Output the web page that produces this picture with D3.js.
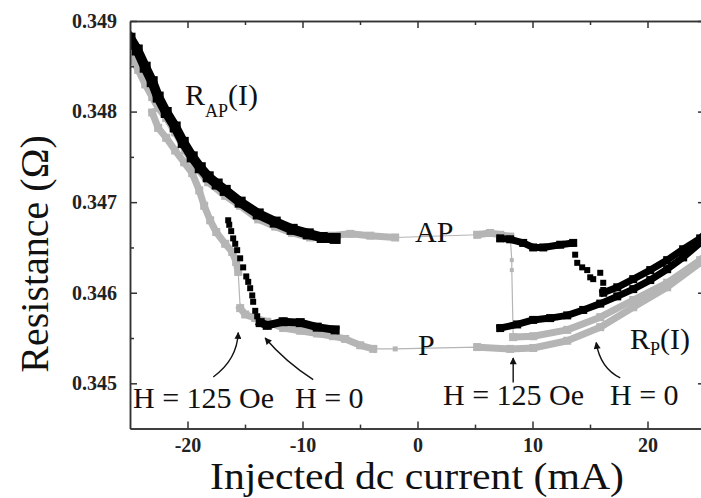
<!DOCTYPE html>
<html>
<head>
<meta charset="utf-8">
<script src="https://cdn.jsdelivr.net/npm/d3@7"></script>
<style>
    body { margin: 0; background: #fff; }
    svg { display: block; }
    .axis path, .axis line { stroke: #333; stroke-width: 1.5; }
    .label { font-family: "Liberation Serif", "Times New Roman", serif; fill: #111; }
</style>
</head>
<body>
<script>
(function(){

    //tick values and labels
    var xTicks = [-20, -10, 0, 10, 20];
    var xTickLabels = ["-20", "-10", "0", "10", "20"];
    var xMinor = [-15, -5, 5, 15];
    var yTicks = [0.345, 0.346, 0.347, 0.348, 0.349];
    var yTickLabels = ["0.345", "0.346", "0.347", "0.348", "0.349"];
    var yMinor = [0.3455, 0.3465, 0.3475, 0.3485];

    //H = 125 Oe sweeps (grey symbols), [current mA, resistance ohm]
    var grayUpper = [[-25.0,0.34862],[-24.29,0.34846],[-23.68,0.34830],[-23.07,0.34816],[-22.55,0.34804],
        [-21.85,0.34793],[-21.07,0.34777],[-20.2,0.34757],[-19.33,0.34740],[-18.2,0.34722],[-16.72,0.34707],
        [-15.42,0.34696],[-13.85,0.34681],[-12.37,0.34673],[-10.9,0.34666],[-9.33,0.34661],[-7.59,0.34663],
        [-5.85,0.34665],[-4.11,0.34663],[-1.94,0.34661]];
    var grayAP2 = [[5.19,0.34664],[6.31,0.34666],[7.19,0.34664],[8.06,0.34662]];
    var graySwitch = [[8.2,0.34636],[8.2,0.34625]];
    var grayRPup = [[8.32,0.34551],[10.06,0.34552],[13.02,0.34559],[15.89,0.34573],[18.76,0.34592],
        [21.71,0.34611],[24.58,0.34636],[25.0,0.34641]];
    var grayRPdown = [[25.0,0.34636],[24.58,0.34633],[21.71,0.34606],[18.76,0.34584],[15.89,0.34562],
        [13.02,0.34547],[10.06,0.34539],[8.06,0.34538],[5.19,0.34540]];
    var grayPoint = [[-1.94,0.34538]];
    var grayP = [[-3.85,0.34538],[-4.98,0.34542],[-6.29,0.34549],[-7.33,0.34552],[-8.72,0.34555],
        [-10.2,0.34558],[-11.68,0.34561],[-13.07,0.34568],[-14.11,0.34572],[-14.98,0.34576],[-15.42,0.34583]];
    var grayLowerBranch = [[-15.59,0.34623],[-15.77,0.34634],[-16.11,0.34645],[-16.72,0.34654],[-17.50,0.34667],
        [-18.03,0.34680],[-18.55,0.34696],[-18.98,0.34713],[-19.59,0.34732],[-20.29,0.34744],[-21.07,0.34757],
        [-21.85,0.34771],[-22.55,0.34782],[-23.07,0.34799]];

    //H = 0 sweeps (black symbols)
    var blackAP = [[-25.0,0.34881],[-24.37,0.34868],[-23.68,0.34849],[-23.07,0.34833],[-22.55,0.34816],
        [-21.85,0.34799],[-21.07,0.34783],[-20.37,0.34766],[-19.59,0.34750],[-18.89,0.34738],[-18.2,0.34728],
        [-17.42,0.34720],[-16.72,0.34713],[-15.42,0.34700],[-13.85,0.34687],[-12.37,0.34678],[-10.9,0.34670],
        [-9.5,0.34665],[-8.29,0.34661],[-7.16,0.34660]];
    var blackP = [[-7.16,0.34559],[-8.72,0.34562],[-10.2,0.34567],[-11.68,0.34568],[-13.07,0.34564],[-13.68,0.34567]];
    var blackSwitch = [[-16.46,0.34680],[-16.37,0.34675],[-16.2,0.34668],[-16.03,0.34660],[-15.85,0.34654],
        [-15.68,0.34647],[-15.42,0.34638],[-15.16,0.34628],[-14.89,0.34618],[-14.72,0.34612],[-14.55,0.34605],
        [-14.37,0.34597],[-14.29,0.34590],[-14.11,0.34580],[-13.94,0.34574]];
    var blackAPright = [[7.19,0.34660],[8.06,0.34659],[9.19,0.34655],[10.06,0.34650],[10.93,0.34650],
        [12.41,0.34653],[13.54,0.34655]];
    var blackSteps = [[13.71,0.34642],[13.89,0.34633],[14.32,0.34628],[14.76,0.34625],[15.02,0.34617],
        [15.28,0.34615],[15.89,0.34622],[16.15,0.34611],[16.15,0.34603]];
    var blackRPup = [[16.15,0.34600],[17.37,0.34606],[18.76,0.34615],[20.24,0.34625],[21.71,0.34636],
        [23.1,0.34648],[24.58,0.34660],[25.0,0.34665]];
    var blackRPdown = [[25.0,0.34660],[24.58,0.34655],[23.1,0.34639],[21.71,0.34626],[20.24,0.34614],
        [18.76,0.34604],[17.37,0.34596],[15.89,0.34588],[14.41,0.34581],[13.02,0.34575],[11.54,0.34572],
        [10.06,0.34570],[8.67,0.34565],[7.19,0.34561]];

    //annotation arrows: start, control, end
    var arrows = [
        [[-17.76,0.34507],[-15.68,0.34526],[-15.59,0.34556]],
        [[-9.07,0.34504],[-11.5,0.34524],[-13.25,0.34550]],
        [[8.32,0.34501],[8.32,0.34515],[8.32,0.34528]],
        [[17.63,0.34506],[15.89,0.34517],[15.54,0.34545]]
    ];

    var serif = "'Liberation Serif', 'Times New Roman', serif";
    var width = 701, height = 498;

    var svg = d3.select("body").append("svg")
        .attr("width", width)
        .attr("height", height);

    //scales
    var x = d3.scaleLinear().domain([-25, 25]).range([130, 705]);
    var y = d3.scaleLinear().domain([0.3445, 0.349]).range([428.6, 21]);

    //clip to plot frame
    svg.append("clipPath").attr("id", "frame")
        .append("rect")
        .attr("x", 130).attr("y", 21)
        .attr("width", 575).attr("height", 407.6);

    var plot = svg.append("g").attr("clip-path", "url(#frame)");

    var line = d3.line()
        .x(function(d){ return x(d[0]); })
        .y(function(d){ return y(d[1]); });

    var gray = "#b5b5b5";

    //thin connecting lines of the grey sweeps
    var sweepUp = grayUpper.concat(grayAP2, graySwitch, grayRPup);
    var sweepDown = grayRPdown.concat(grayPoint, grayP, grayLowerBranch);
    [sweepUp, sweepDown].forEach(function(s){
        plot.append("path")
            .datum(s)
            .attr("d", line)
            .attr("fill", "none")
            .attr("stroke", gray)
            .attr("stroke-width", 1.2);
    });

    //dense symbol bands drawn as thick lines
    function band(data, color, w){
        plot.append("path")
            .datum(data)
            .attr("d", line)
            .attr("fill", "none")
            .attr("stroke", color)
            .attr("stroke-width", w)
            .attr("stroke-linejoin", "round")
            .attr("stroke-linecap", "square");
        plot.selectAll(null)
            .data(data)
            .enter()
            .append("rect")
            .attr("x", function(d){ return x(d[0]) - w / 2 - 0.5; })
            .attr("y", function(d){ return y(d[1]) - w / 2 - 0.5; })
            .attr("width", w + 1)
            .attr("height", w + 1)
            .attr("fill", color);
    }

    //separate square symbols
    function symbols(data, color, s){
        plot.selectAll(null)
            .data(data)
            .enter()
            .append("rect")
            .attr("x", function(d){ return x(d[0]) - s / 2; })
            .attr("y", function(d){ return y(d[1]) - s / 2; })
            .attr("width", s)
            .attr("height", s)
            .attr("fill", color);
    }

    band(grayUpper, gray, 7);
    band(grayAP2, gray, 7);
    band(grayRPup, gray, 7);
    band(grayRPdown, gray, 7);
    band(grayP, gray, 7);
    band(grayLowerBranch, gray, 7);
    symbols(graySwitch, gray, 4);
    symbols(grayPoint, gray, 5);

    band(blackAP, "#000", 10);
    band(blackP, "#000", 8);
    band(blackAPright, "#000", 7);
    band(blackRPup, "#000", 7);
    band(blackRPdown, "#000", 7);
    symbols(blackSwitch, "#000", 6);
    symbols(blackSteps, "#000", 6);

    //axes with inward ticks
    function addAxis(axisFn, tx, ty, vals, labels, size, pad){
        var a = axisFn
            .tickValues(vals)
            .tickSize(-size)
            .tickSizeOuter(0)
            .tickPadding(pad)
            .tickFormat(function(d, i){ return labels ? labels[i] : ""; });
        var g = svg.append("g")
            .attr("class", "axis")
            .attr("transform", "translate(" + tx + "," + ty + ")")
            .call(a);
        g.selectAll("text")
            .style("font-family", serif)
            .style("font-weight", "bold")
            .style("font-size", "20px")
            .style("fill", "#222");
    }

    addAxis(d3.axisBottom(x), 0, 428.6, xTicks, xTickLabels, 7, 9);
    addAxis(d3.axisBottom(x), 0, 428.6, xMinor, null, 4, 9);
    addAxis(d3.axisTop(x), 0, 21, xTicks, null, 7, 10);
    addAxis(d3.axisTop(x), 0, 21, xMinor, null, 4, 10);
    addAxis(d3.axisLeft(y), 130, 0, yTicks, yTickLabels, 7, 13);
    addAxis(d3.axisLeft(y), 130, 0, yMinor, null, 4, 13);
    addAxis(d3.axisRight(y), 705, 0, yTicks, null, 7, 10);
    addAxis(d3.axisRight(y), 705, 0, yMinor, null, 4, 10);

    //arrow heads
    svg.append("defs").append("marker")
        .attr("id", "head")
        .attr("viewBox", "0 0 10 10")
        .attr("refX", 9).attr("refY", 5)
        .attr("markerWidth", 9).attr("markerHeight", 7)
        .attr("markerUnits", "userSpaceOnUse")
        .attr("orient", "auto")
        .append("path")
        .attr("d", "M0,0 L10,5 L0,10 z")
        .attr("fill", "#111");

    arrows.forEach(function(a){
        var p = d3.path();
        p.moveTo(x(a[0][0]), y(a[0][1]));
        p.quadraticCurveTo(x(a[1][0]), y(a[1][1]), x(a[2][0]), y(a[2][1]));
        svg.append("path")
            .attr("d", p.toString())
            .attr("fill", "none")
            .attr("stroke", "#111")
            .attr("stroke-width", 1.4)
            .attr("marker-end", "url(#head)");
    });

    //text labels
    function label(tx, ty, str, size){
        return svg.append("text")
            .attr("class", "label")
            .attr("x", tx).attr("y", ty)
            .attr("font-size", size)
            .text(str);
    }

    var rap = svg.append("text").attr("class", "label").attr("x", 185).attr("y", 105).attr("font-size", 30);
    rap.append("tspan").text("R");
    rap.append("tspan").attr("font-size", 18).attr("dy", 12).text("AP");
    rap.append("tspan").attr("dy", -12).text("(I)");

    var rp = svg.append("text").attr("class", "label").attr("x", 630).attr("y", 349).attr("font-size", 30);
    rp.append("tspan").text("R");
    rp.append("tspan").attr("font-size", 18).attr("dy", 6).text("P");
    rp.append("tspan").attr("dy", -6).text("(I)");

    label(415, 242, "AP", 30);
    label(418, 355, "P", 30);
    label(133, 408, "H = 125 Oe", 30);
    label(295, 408, "H = 0", 30);
    label(443, 405, "H = 125 Oe", 30);
    label(610, 405, "H = 0", 30);

    //axis titles
    label(210, 489, "Injected dc current (mA)", 37)
        .attr("textLength", 414)
        .attr("lengthAdjust", "spacingAndGlyphs");
    label(0, 0, "Resistance (\u03A9)", 40)
        .attr("text-anchor", "middle")
        .attr("transform", "translate(48,254) rotate(-90)");

})();
</script>
</body>
</html>
